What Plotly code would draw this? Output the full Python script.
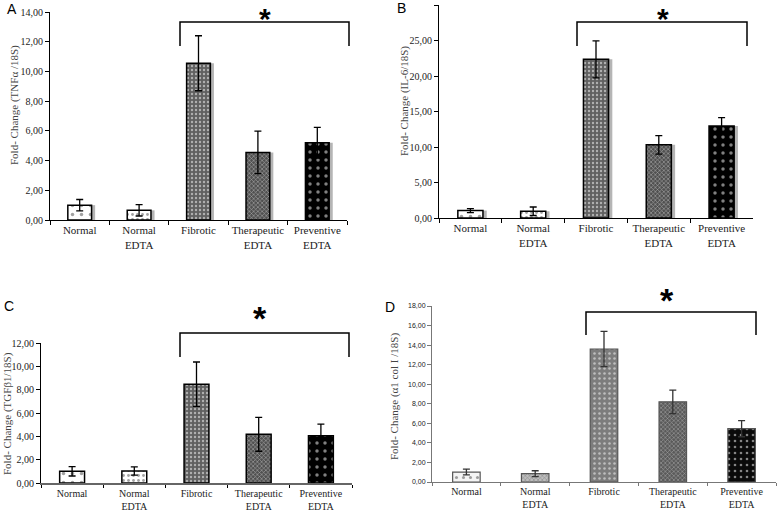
import plotly.graph_objects as go

W, H = 777, 512

categories = ["Normal", "Normal<br>EDTA", "Fibrotic", "Therapeutic<br>EDTA", "Preventive<br>EDTA"]

tnf_vals = [1.0, 0.65, 10.55, 4.55, 5.2]
tnf_err = [0.38, 0.38, 1.85, 1.43, 1.03]
il6_vals = [1.05, 0.95, 22.35, 10.3, 12.95]
il6_err = [0.28, 0.6, 2.6, 1.3, 1.2]
tgf_vals = [1.0, 1.03, 8.47, 4.17, 4.05]
tgf_err = [0.4, 0.35, 1.9, 1.45, 1.0]
col_vals = [1.02, 0.85, 13.6, 8.2, 5.45]
col_err = [0.3, 0.3, 1.8, 1.2, 0.82]

y_titles = ["Fold- Change (TNFα /18S)", "Fold- Change (IL-6/18S)",
            "Fold- Change (TGFβ1/18S)", "Fold- Change (α1 col I /18S)"]
y_ranges = [14, 30, 12, 18]
y_dticks = [2, 5, 2, 2]
panel_letters = ["A", "B", "C", "D"]


def fx(p):
    return p / W


def fy(p):
    return 1 - p / H


# panel pixel boxes: x0, x1, ytop, ybottom
boxes = [(50, 347, 12, 220), (439, 753, 5, 218), (41, 352, 343, 483), (432, 776, 306, 482)]

pat_main = dict(
    shape=[".", ".", ".", "x", "."],
    bgcolor=["#ffffff", "#ffffff", "#606060", "#505050", "#000000"],
    fgcolor=["#555555", "#333333", "#f0f0f0", "#cfcfcf", "#ffffff"],
    size=[9, 5, 4, 3, 8],
    solidity=[0.12, 0.25, 0.28, 0.35, 0.15],
)
pat_d = dict(
    shape=[".", "x", ".", "x", "."],
    bgcolor=["#f4f4f4", "#bdbdbd", "#7d7d7d", "#5a5a5a", "#0a0a0a"],
    fgcolor=["#888888", "#ffffff", "#cfcfcf", "#9a9a9a", "#bbbbbb"],
    size=[7, 3, 5, 3, 6],
    solidity=[0.15, 0.3, 0.2, 0.3, 0.15],
)

fig = go.Figure()
datasets = [(tnf_vals, tnf_err), (il6_vals, il6_err), (tgf_vals, tgf_err), (col_vals, col_err)]

for i, (vals, errs) in enumerate(datasets):
    xa = "x" if i == 0 else f"x{i+1}"
    ya = "y" if i == 0 else f"y{i+1}"
    if i in (0, 1):
        fig.add_trace(go.Bar(x=categories, y=vals, xaxis=xa, yaxis=ya, width=0.4, offset=-0.14,
                             marker=dict(color="#b5b5b5", line=dict(width=0)),
                             hoverinfo="skip", showlegend=False))
    pat = pat_d if i == 3 else pat_main
    fig.add_trace(go.Bar(
        x=categories, y=vals, xaxis=xa, yaxis=ya, width=0.4,
        marker=dict(color=pat["bgcolor"], pattern=pat,
                    line=dict(color="#555555" if i == 3 else "#000000", width=1.2 if i == 3 else 1.5)),
        error_y=dict(type="data", array=errs, visible=True,
                     color="#333333" if i == 3 else "#000000",
                     thickness=1.3, width=3.5),
        showlegend=False))

layout = dict(width=W, height=H, margin=dict(l=0, r=0, t=0, b=0, autoexpand=False),
              plot_bgcolor="white", paper_bgcolor="white", barmode="overlay",
              separators=",.", showlegend=False)

annotations = []
shapes = []
for i, (x0, x1, yt, yb) in enumerate(boxes):
    sfx = "" if i == 0 else str(i + 1)
    axcol = "#777777" if i == 3 else "#000000"
    bottom_row = i >= 2
    layout["xaxis" + sfx] = dict(
        domain=[fx(x0), fx(x1)], anchor="y" + sfx, type="category",
        showline=True, linecolor="#666666" if i == 2 else axcol, linewidth=2 if i == 2 else 1,
        ticks="outside", tickson="boundaries", ticklen=3 if bottom_row else 4,
        tickcolor=axcol, tickangle=0,
        tickfont=dict(family="Liberation Serif", size=10 if bottom_row else 11, color="#222222"),
        range=[-0.5, 4.5], fixedrange=True)
    layout["yaxis" + sfx] = dict(
        domain=[fy(yb), fy(yt)], anchor="x" + sfx, range=[0, y_ranges[i]], dtick=y_dticks[i],
        tickformat=".2f", showline=True, linecolor=axcol, linewidth=1,
        ticks="outside", ticklen=4, tickcolor=axcol, showgrid=False, zeroline=False,
        tickfont=dict(family="Liberation Serif" if i != 3 else "Liberation Sans",
                      size=10 if i != 3 else 7, color="#222222"),
        fixedrange=True)

# y-axis titles
title_pos = [(14, 105), (404, 101), (7, 414), (394, 397)]
for i, (tx, ty) in enumerate(title_pos):
    annotations.append(dict(text=y_titles[i], x=fx(tx), y=fy(ty), xref="paper", yref="paper",
                            textangle=-90, showarrow=False, xanchor="center", yanchor="middle",
                            font=dict(family="Liberation Serif", size=11, color="#444444")))

# panel letters
letter_pos = [(12, 9), (401, 8), (9, 306), (390, 307)]
for i, (lx, ly) in enumerate(letter_pos):
    annotations.append(dict(text=panel_letters[i], x=fx(lx), y=fy(ly), xref="paper", yref="paper",
                            showarrow=False, xanchor="center", yanchor="middle",
                            font=dict(family="Liberation Sans", size=14, color="#000000")))

# significance brackets and asterisks
brackets = [(180, 349, 22, 46), (577, 747, 22, 46), (180, 349, 333, 357), (586, 756, 312, 335)]
stars = [(265, 0, "top", 30), (663, 0, "top", 30), (260, 318, "middle", 34), (667, 300, "middle", 34)]
for (bx0, bx1, btop, bbot), (sx, sy, yanc, fsize) in zip(brackets, stars):
    path = (f"M {fx(bx0)},{fy(bbot)} L {fx(bx0)},{fy(btop)} "
            f"L {fx(bx1)},{fy(btop)} L {fx(bx1)},{fy(bbot)}")
    shapes.append(dict(type="path", path=path, xref="paper", yref="paper",
                       line=dict(color="#000000", width=1.5)))
    annotations.append(dict(text="<b>*</b>", x=fx(sx), y=fy(sy), xref="paper", yref="paper",
                            showarrow=False, xanchor="center", yanchor=yanc,
                            font=dict(family="Liberation Sans", size=fsize, color="#000000")))

layout["annotations"] = annotations
layout["shapes"] = shapes
fig.update_layout(**layout)
fig.write_html("out.html", config={"displayModeBar": False},
               post_script="document.body.style.margin='0';document.body.style.overflow='hidden';")
